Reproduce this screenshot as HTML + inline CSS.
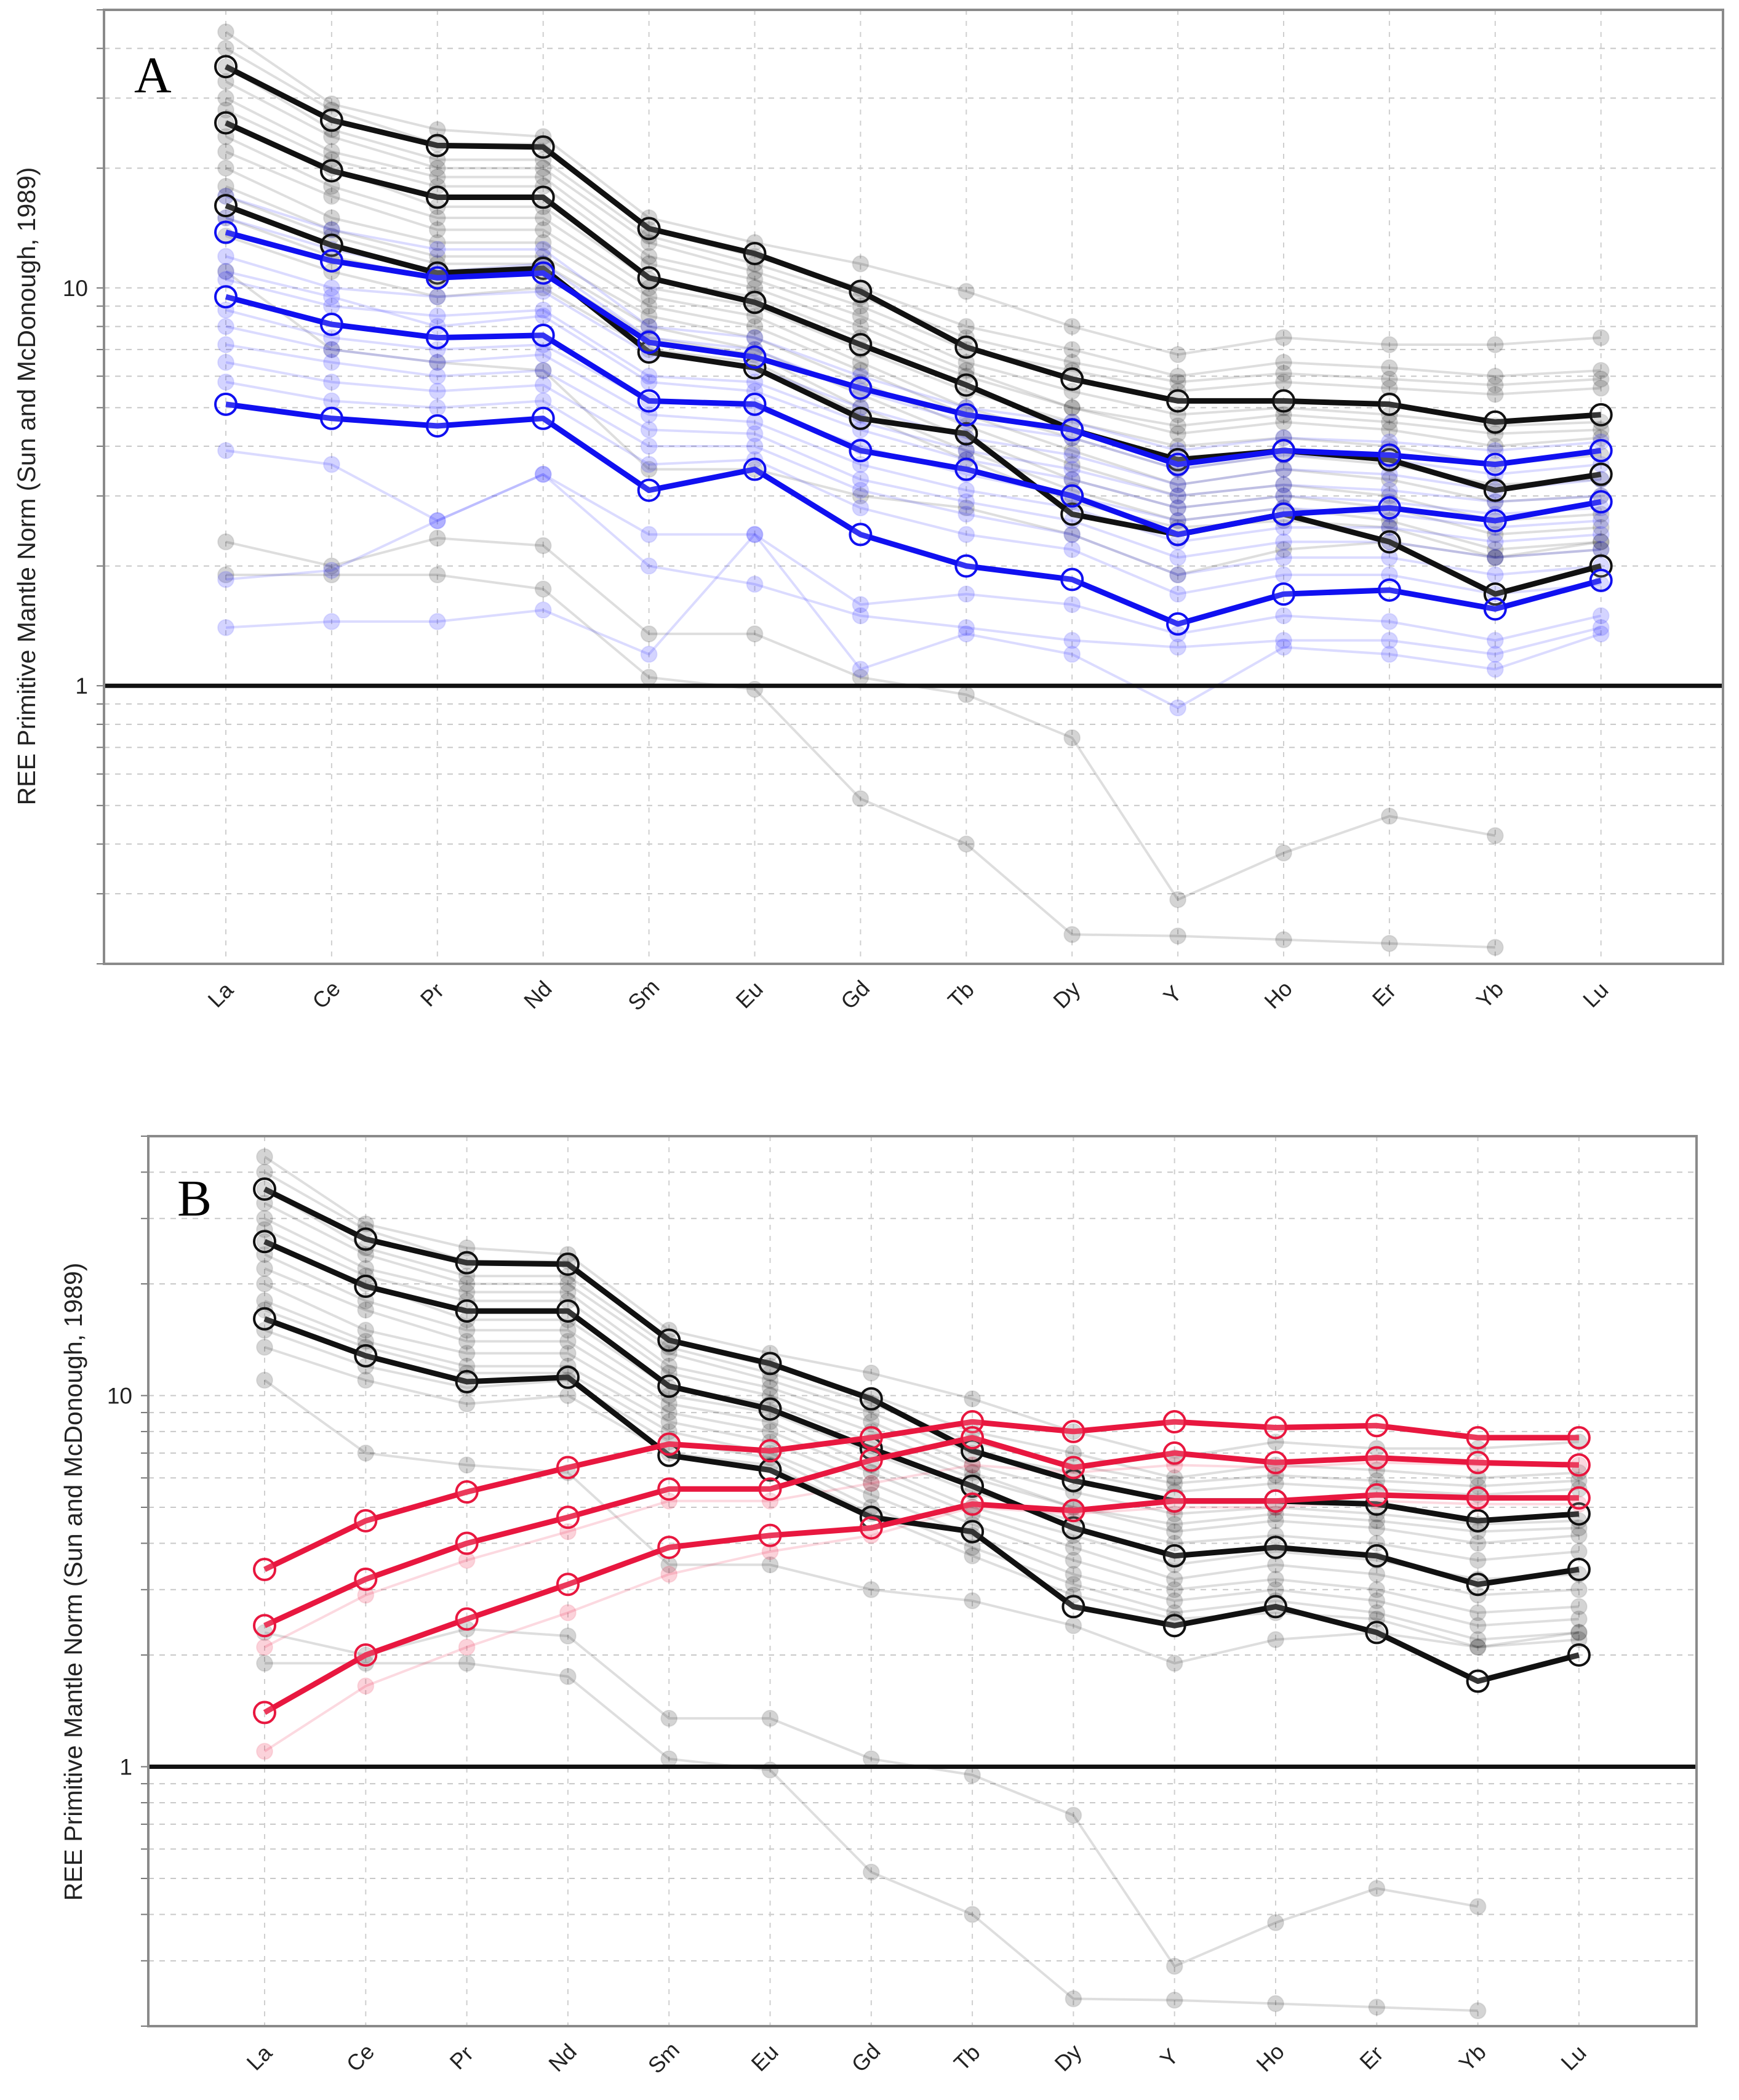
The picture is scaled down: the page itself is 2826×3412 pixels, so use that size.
<!DOCTYPE html>
<html><head><meta charset="utf-8"><style>
html,body{margin:0;padding:0;background:#fff;}
svg{display:block;font-family:"Liberation Sans",sans-serif;}
</style></head><body>
<svg id="fig" width="2826" height="3412" viewBox="0 0 2826 3412" xmlns="http://www.w3.org/2000/svg"></svg>
<script>
const categories=["La","Ce","Pr","Nd","Sm","Eu","Gd","Tb","Dy","Y","Ho","Er","Yb","Lu"];
const yTickValues=[1,10];
const yTickLabels=["1","10"];
const blackSeries=[
[36,26.4,22.8,22.6,14.1,12.2,9.8,7.1,5.9,5.2,5.2,5.1,4.6,4.8],
[26,19.7,16.9,16.9,10.6,9.2,7.2,5.7,4.4,3.7,3.9,3.7,3.1,3.4],
[16.1,12.8,10.9,11.2,6.9,6.3,4.7,4.3,2.7,2.4,2.7,2.3,1.7,2.0]];
const blueSeries=[
[13.8,11.7,10.6,10.9,7.3,6.7,5.6,4.8,4.4,3.6,3.9,3.8,3.6,3.9],
[9.5,8.1,7.5,7.6,5.2,5.1,3.9,3.5,3.0,2.4,2.7,2.8,2.6,2.9],
[5.1,4.7,4.5,4.7,3.1,3.5,2.4,2.0,1.85,1.43,1.7,1.74,1.56,1.84]];
const redSeries=[
[3.4,4.6,5.5,6.4,7.4,7.1,7.7,8.5,8.0,8.5,8.2,8.3,7.7,7.7],
[2.4,3.2,4.0,4.7,5.6,5.6,6.7,7.7,6.4,7.0,6.6,6.8,6.6,6.5],
[1.4,2.0,2.5,3.1,3.9,4.2,4.4,5.1,4.9,5.2,5.2,5.4,5.3,5.3]];
const grayBg=[
[44,29,25,24,15,13,11.5,9.8,8,6.8,7.5,7.2,7.2,7.5],
[40,28,23,23,14,12,10,8,7,6,6.5,6.3,6,6.2],
[33,24,20,20,13,11,9,7,6.2,5.5,5.8,5.6,5.4,5.6],
[30,22,19,19,12,10.5,8.5,6.5,5.5,4.8,5,4.8,4.5,4.6],
[28,21,18,18,11.5,10,8,6.2,5,4.3,4.6,4.4,4,4.2],
[24,18,15,15,10,9,7,5.5,4.6,4,4.2,4,3.6,3.8],
[22,17,14,14,9.5,8.5,6.5,5,4.2,3.5,3.8,3.6,3.2,3.3],
[20,15,13,13,9,8,6.2,4.8,3.9,3.2,3.5,3.3,2.9,3.0],
[18,14,12,12,8.5,7.5,5.8,4.5,3.6,3.0,3.2,3.0,2.6,2.7],
[17,13.5,11.5,11.5,8,7,5.4,4.2,3.3,2.8,3.0,2.8,2.4,2.5],
[15,12,10.5,11,7.5,6.8,5,3.9,3.1,2.6,2.8,2.6,2.2,2.3],
[13.5,11,9.5,10,7,6.5,4.8,3.7,2.9,2.5,2.6,2.5,2.1,2.2],
[26,20,16,16,10.5,9.5,7.5,6,5,4.5,4.8,4.6,4.3,4.4],
[36,25,21,21,13.5,11.5,9.5,7.5,6.5,5.8,6.1,5.9,5.7,5.9],
[2.3,2.0,2.35,2.25,1.35,1.35,1.05,0.95,0.74,0.29,0.38,0.47,0.42,null],
[11,7,6.5,6.2,3.5,3.5,3,2.8,2.4,1.9,2.2,2.3,2.1,2.3],
[1.9,1.9,1.9,1.75,1.05,0.98,0.52,0.4,0.237,0.235,0.23,0.225,0.22,null]];
const blueBg=[
[17,14,12.5,12.5,8,7.5,6,5,4.6,3.9,4.2,4.1,3.9,4.1],
[15,12.5,11,11.5,7.5,7,5.5,4.6,4.2,3.5,3.8,3.7,3.4,3.6],
[12,10,9.5,9.8,6.8,6.3,5,4.2,3.8,3.2,3.5,3.4,3.1,3.3],
[10.5,9,8.5,8.8,6,5.8,4.6,3.9,3.5,3.0,3.2,3.1,2.9,3.0],
[8.8,7.5,7,7.2,5.2,5,4,3.4,3,2.6,2.8,2.7,2.5,2.6],
[8,7,6.5,6.8,4.8,4.6,3.6,3.1,2.8,2.3,2.5,2.5,2.3,2.4],
[7.2,6.5,6,6.2,4.4,4.3,3.3,2.9,2.6,2.1,2.3,2.3,2.1,2.2],
[6.5,5.8,5.5,5.7,4,4,3.1,2.7,2.4,1.9,2.1,2.1,1.9,2.0],
[5.8,5.2,5,5.2,3.6,3.7,2.8,2.4,2.2,1.7,1.9,1.9,1.7,1.8],
[3.9,3.6,2.6,3.4,2.4,2.4,1.6,1.7,1.6,1.35,1.5,1.45,1.3,1.5],
[1.4,1.45,1.45,1.55,1.2,2.4,1.1,1.35,1.2,0.88,1.25,1.2,1.1,1.35],
[11,9.5,8,8.5,5.8,5.5,4.4,3.7,3.3,2.8,3.0,2.9,2.7,2.8],
[1.85,1.95,2.6,3.4,2.0,1.8,1.5,1.4,1.3,1.25,1.3,1.3,1.2,1.4]];
const redBg=[
[2.1,2.9,3.6,4.3,5.2,5.2,5.8,6.5,6.2,6.5,6.4,6.6,6.5,6.5],
[1.1,1.65,2.1,2.6,3.3,3.8,4.2,5.0,4.8,5.0,5.0,5.2,5.1,5.1]];

const NS="http://www.w3.org/2000/svg";
const svg=document.getElementById('fig');
function mk(tag,attrs,parent){const e=document.createElementNS(NS,tag);for(const k in attrs)e.setAttribute(k,attrs[k]);(parent||svg).appendChild(e);return e;}

function drawPanel(p){
  const g=mk('g',{});
  
  
  const lmin=Math.log10(0.2),lmax=Math.log10(50);
  const yS=v=>p.top+(lmax-Math.log10(v))/(lmax-lmin)*(p.bottom-p.top);
  const xS=i=>p.x0+i*p.dx;
  const bgRect=mk('rect',{x:p.left,y:p.top,width:p.right-p.left,height:p.bottom-p.top,fill:'#fff'},g);
  
  
  const grid=mk('g',{},g);
  
  
  [0.1,1,10].forEach(d=>{for(let m=1;m<=9;m++){const v=d*m;if(v<0.2||v>50)continue;const y=yS(v);
    mk('line',{x1:p.left,x2:p.right,y1:y,y2:y,stroke:'#c8c8c8','stroke-width':2,'stroke-dasharray':'9,9'},grid);
    mk('line',{x1:p.left-12,x2:p.left,y1:y,y2:y,stroke:'#777','stroke-width':2},grid);}});
  const yv=yS(50);mk('line',{x1:p.left,x2:p.right,y1:yv,y2:yv,stroke:'#c8c8c8','stroke-width':2,'stroke-dasharray':'9,9'},grid);
  categories.forEach((c,i)=>{mk('line',{x1:xS(i),x2:xS(i),y1:p.top,y2:p.bottom,stroke:'#cfcfcf','stroke-width':2,'stroke-dasharray':'8,10'},grid);});
  function series(arr,stroke,sw,mfill,mstroke,r,msw,name){
    arr.forEach((s,k)=>{
      const sg=mk('g',{},g);
      
      
      let d='';let pen=false;
      s.forEach((v,i)=>{if(v==null){pen=false;return;}d+=(pen?'L':'M')+xS(i).toFixed(1)+','+yS(v).toFixed(1);pen=true;});
      mk('path',{d:d,fill:'none',stroke:stroke,'stroke-width':sw,'stroke-linejoin':'round'},sg);
      s.forEach((v,i)=>{if(v==null)return;const c=mk('circle',{cx:xS(i),cy:yS(v),r:r,fill:mfill,stroke:mstroke,'stroke-width':msw},sg);
        
        });
    });
  }
  series(grayBg,'rgba(0,0,0,0.13)',4,'rgba(0,0,0,0.17)','rgba(0,0,0,0.08)',13,2,'gray-background-line');
  if(p.letter==='A'){
    series(blueBg,'rgba(40,40,255,0.17)',4,'rgba(40,40,255,0.2)','rgba(40,40,255,0.1)',13,2,'blue-background-line');
  } else {
    series(redBg,'rgba(235,30,70,0.17)',4,'rgba(235,30,70,0.2)','rgba(235,30,70,0.1)',13,2,'red-background-line');
  }
  const y1=yS(1);
  const ul=mk('line',{x1:p.left,x2:p.right,y1:y1,y2:y1,stroke:'#111','stroke-width':7},g);
  
  
  series(blackSeries,'#111',9,'rgba(255,255,255,0.15)','#111',17,4,'black-sample-line');
  if(p.letter==='A') series(blueSeries,'#1010f0',9,'rgba(255,255,255,0.15)','#1010f0',17,4,'blue-sample-line');
  else series(redSeries,'#e8173f',9,'rgba(255,255,255,0.15)','#e8173f',17,4,'red-sample-line');
  const fr=mk('rect',{x:p.left,y:p.top,width:p.right-p.left,height:p.bottom-p.top,fill:'none',stroke:'#8a8a8a','stroke-width':4},g);
  
  
  yTickValues.forEach((v,k)=>{const t=mk('text',{x:p.left-26,y:yS(v)+13,'text-anchor':'end','font-size':37,fill:'#222'},g);t.textContent=yTickLabels[k];
    
    });
  categories.forEach((c,i)=>{const x=xS(i),y=p.labelY;const t=mk('text',{x:x,y:y,'text-anchor':'middle','font-size':36,fill:'#222',transform:'rotate(-45 '+x+' '+y+')'},g);t.textContent=c;
    
    });
  const yt=mk('text',{x:0,y:0,'text-anchor':'middle','font-size':41,fill:'#222',transform:'translate('+(p.titleX)+','+p.titleY+') rotate(-90)'},g);
  yt.textContent='REE Primitive Mantle Norm (Sun and McDonough, 1989)';
  
  
  const lt=mk('text',{x:p.letterX,y:p.letterY,'font-size':84,fill:'#000','font-family':'Liberation Serif, serif'},g);
  lt.textContent=p.letter;
  
  
}
drawPanel({letter:'A',left:169,right:2800,top:16,bottom:1566,x0:367,dx:171.9,labelY:1625,titleX:57,titleY:790,letterX:218,letterY:150});
drawPanel({letter:'B',left:241,right:2757,top:1846,bottom:3292,x0:430,dx:164.3,labelY:3352,titleX:133,titleY:2570,letterX:288,letterY:1975});
</script>
</body></html>
